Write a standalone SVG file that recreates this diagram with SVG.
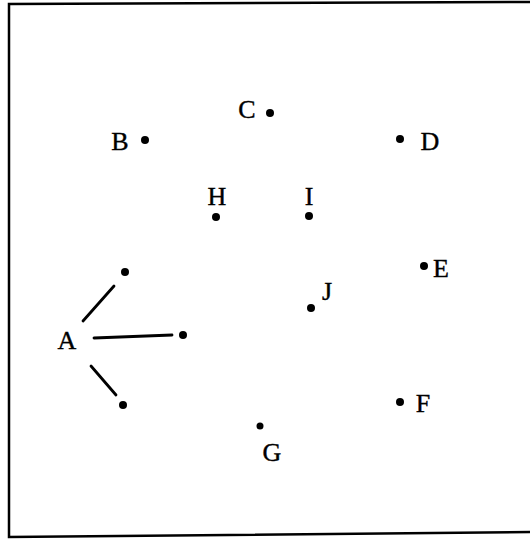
<svg xmlns="http://www.w3.org/2000/svg" width="530" height="542" viewBox="0 0 530 542">
<style>
.lbl{font-family:"Liberation Serif","Times New Roman",serif;font-size:26px;fill:#000;stroke:#000;stroke-width:0.4;text-anchor:middle}
.dot{fill:#000}
.edge{stroke:#000;stroke-width:2.8;stroke-linecap:round;fill:none}
</style>
<rect width="530" height="542" fill="#fff"/>
<path d="M531,2 L9,4 L9,537 L531,532" fill="none" stroke="#000" stroke-width="2.5"/>
<g id="connectors">
<line class="edge" x1="83" y1="321" x2="114" y2="286"/>
<line class="edge" x1="94" y1="338" x2="172" y2="335"/>
<line class="edge" x1="91" y1="366" x2="116" y2="395"/>
</g>
<g id="A"><text class="lbl" x="67" y="349">A</text>
<circle class="dot" cx="125" cy="272" r="4"/>
<circle class="dot" cx="183" cy="335" r="4"/>
<circle class="dot" cx="123" cy="405" r="4"/></g>
<g id="B"><text class="lbl" x="120" y="150">B</text><circle class="dot" cx="145" cy="140" r="4"/></g>
<g id="C"><text class="lbl" x="247" y="118">C</text><circle class="dot" cx="270" cy="113" r="4"/></g>
<g id="D"><text class="lbl" x="430" y="150">D</text><circle class="dot" cx="400" cy="139" r="4"/></g>
<g id="E"><text class="lbl" x="441" y="277">E</text><circle class="dot" cx="424" cy="266" r="4"/></g>
<g id="F"><text class="lbl" x="423" y="412">F</text><circle class="dot" cx="400" cy="402" r="4"/></g>
<g id="G"><text class="lbl" x="272" y="461">G</text><circle class="dot" cx="260" cy="426" r="3.5"/></g>
<g id="H"><text class="lbl" x="217" y="205">H</text><circle class="dot" cx="216" cy="217" r="4"/></g>
<g id="I"><text class="lbl" x="309" y="205">I</text><circle class="dot" cx="309" cy="216" r="4"/></g>
<g id="J"><text class="lbl" x="327" y="300">J</text><circle class="dot" cx="311" cy="308" r="4"/></g>
</svg>
